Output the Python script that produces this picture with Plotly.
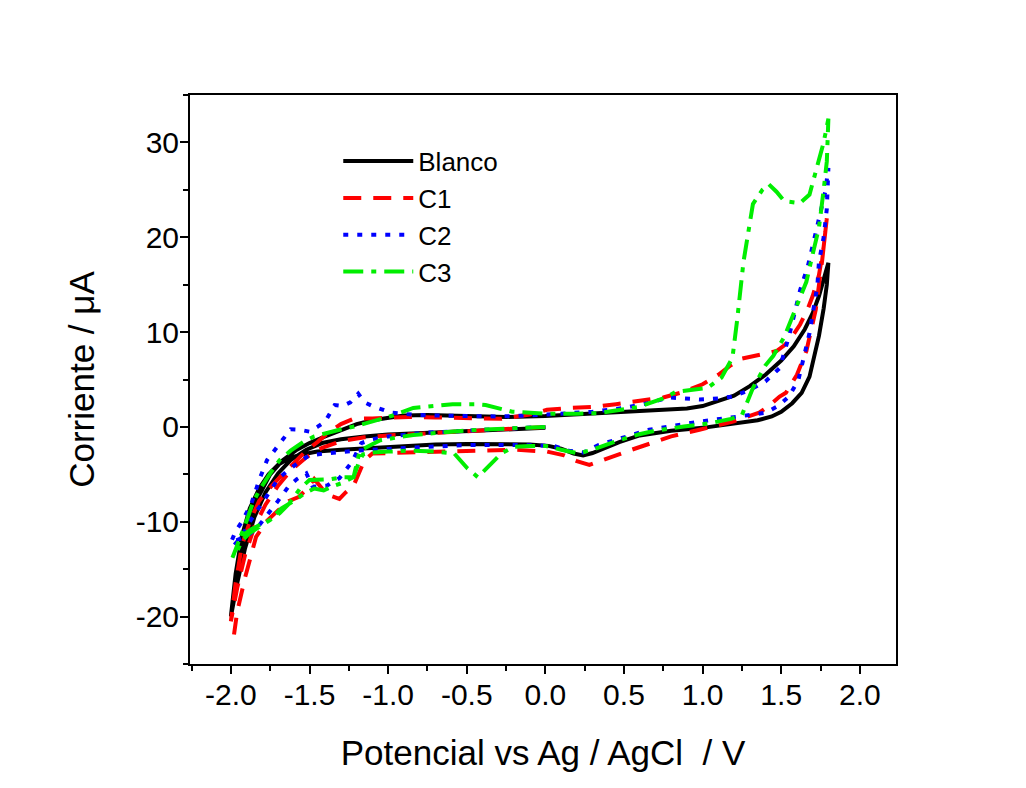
import plotly.graph_objects as go

# ---------------- data (V vs Ag/AgCl, current in uA) ----------------
# Each voltammogram: 0 V -> -2 V (middle), -2 V -> 1.8 V (upper), 1.8 V -> -2 V (lower)
blanco_v = [0.0, -0.25, -0.5, -0.75, -1.0, -1.15, -1.3, -1.42, -1.52, -1.62, -1.7, -1.78, -1.85, -1.91, -1.96, -2.0,
            -1.97, -1.93, -1.88, -1.82, -1.75, -1.67, -1.58, -1.5, -1.4, -1.3, -1.2, -1.1, -1.0, -0.9, -0.75, -0.5,
            -0.25, 0.0, 0.25, 0.5, 0.75, 0.9, 1.0, 1.1, 1.2, 1.3, 1.4, 1.5, 1.58, 1.65, 1.7, 1.74, 1.77, 1.8,
            1.79, 1.77, 1.74, 1.71, 1.68, 1.63, 1.57, 1.5, 1.44, 1.35, 1.2, 1.0, 0.8, 0.6, 0.47, 0.38, 0.3, 0.24,
            0.18, 0.1, 0.02, -0.1, -0.3, -0.5, -0.7, -0.9, -1.1, -1.3, -1.45, -1.55, -1.63, -1.7, -1.76, -1.82,
            -1.88, -1.93, -1.97, -2.0]
blanco_i = [-0.1, -0.25, -0.4, -0.55, -0.8, -1.0, -1.3, -1.7, -2.4, -3.5, -4.9, -6.9, -9.5, -12.8, -16.5, -20.0,
            -17.0, -13.5, -10.0, -7.2, -5.0, -3.5, -2.4, -1.7, -1.0, -0.3, 0.3, 0.7, 1.0, 1.2, 1.25, 1.15,
            1.05, 1.15, 1.4, 1.6, 1.8, 1.95, 2.2, 2.7, 3.3, 4.3, 5.5, 7.0, 8.5, 10.3, 12.0, 13.8, 15.5, 17.3,
            15.0, 12.5, 9.6, 7.2, 5.3, 3.6, 2.5, 1.6, 1.1, 0.7, 0.35, -0.1, -0.4, -0.9, -1.6, -2.2, -2.75, -3.0,
            -2.8, -2.3, -2.0, -1.85, -1.8, -1.8, -1.85, -2.0, -2.2, -2.4, -2.6, -2.9, -3.3, -4.0, -5.0, -6.5,
            -8.6, -11.5, -15.5, -20.0]

c1_v = [0.0, -0.25, -0.5, -0.75, -1.0, -1.15, -1.3, -1.42, -1.52, -1.62, -1.7, -1.78, -1.85, -1.91, -1.96, -2.0,
        -1.97, -1.93, -1.88, -1.82, -1.74, -1.66, -1.6, -1.52, -1.45, -1.38, -1.3, -1.22, -1.1, -1.0, -0.87, -0.7,
        -0.5, -0.28, -0.1, 0.01, 0.15, 0.3, 0.45, 0.59, 0.75, 0.88, 1.0, 1.1, 1.18, 1.25, 1.33, 1.4, 1.47, 1.52,
        1.56, 1.62, 1.67, 1.7, 1.74, 1.77, 1.79,
        1.78, 1.76, 1.72, 1.66, 1.6, 1.53, 1.49, 1.42, 1.36, 1.2, 0.98, 0.8, 0.55, 0.42, 0.34, 0.28, 0.2, 0.12,
        0.01, -0.2, -0.4, -0.6, -0.8, -1.0, -1.1, -1.15, -1.18, -1.22, -1.27, -1.31, -1.36, -1.42, -1.47, -1.52,
        -1.57, -1.63, -1.7, -1.77, -1.84, -1.91, -1.96, -1.98]
c1_i = [0.0, -0.2, -0.4, -0.6, -0.9, -1.1, -1.5, -2.2, -3.2, -4.6, -6.2, -8.2, -10.5, -13.5, -17.0, -20.5,
        -16.5, -12.5, -10.0, -7.8, -6.2, -4.8, -3.8, -2.5, -1.6, -0.6, 0.3, 0.85, 0.9, 0.95, 1.05, 1.0,
        0.95, 0.85, 1.3, 1.8, 2.0, 2.1, 2.4, 2.7, 3.1, 3.7, 4.5, 5.5, 6.5, 7.2, 7.5, 7.8, 8.0, 8.6,
        9.3, 10.8, 12.5, 13.8, 16.0, 19.0, 22.0,
        20.0, 17.5, 12.4, 8.0, 5.5, 3.6, 3.2, 2.2, 1.5, 0.6, -0.3, -1.0, -2.4, -3.2, -3.7, -4.0, -3.6, -3.0,
        -2.6, -2.4, -2.5, -2.6, -2.6, -2.7, -2.8, -3.5, -4.6, -6.2, -6.9, -7.6, -7.3, -6.5, -5.5, -6.6,
        -7.4, -7.8, -8.8, -9.9, -11.6, -15.9, -19.5, -21.9]

c2_v = [0.0, -0.25, -0.5, -0.75, -1.0, -1.1, -1.17, -1.23, -1.31, -1.39, -1.48, -1.52, -1.58, -1.63, -1.7, -1.77,
        -1.84, -1.9, -1.95, -2.0,
        -1.97, -1.93, -1.87, -1.82, -1.77, -1.69, -1.62, -1.56, -1.5, -1.45, -1.4, -1.34, -1.29, -1.24, -1.19,
        -1.15, -1.1, -0.98, -0.85, -0.7, -0.5, -0.3, -0.1, 0.1, 0.3, 0.5, 0.65, 0.79, 0.9, 0.98, 1.1, 1.19,
        1.3, 1.4, 1.49, 1.55, 1.62, 1.67, 1.7, 1.74, 1.78, 1.8,
        1.79, 1.77, 1.74, 1.73, 1.68, 1.61, 1.55, 1.48, 1.4, 1.23, 0.98, 0.66, 0.45, 0.34, 0.24, 0.15, 0.05,
        -0.2, -0.5, -0.8, -1.0, -1.1, -1.2, -1.3, -1.4, -1.5, -1.55, -1.63, -1.7, -1.76, -1.82, -1.88, -1.93,
        -1.98]
c2_i = [0.0, -0.2, -0.4, -0.6, -1.0, -1.3, -1.7, -3.7, -5.4, -6.2, -6.3, -4.9, -5.5, -6.2, -7.8, -9.3,
        -10.8, -11.5, -11.8, -12.2,
        -11.0, -10.0, -8.1, -5.6, -3.5, -1.7, -0.25, -0.3, -0.5, 0.0, 0.56, 2.3, 2.2, 2.6, 3.5,
        2.6, 2.2, 1.5, 1.3, 1.2, 1.1, 1.1, 1.2, 1.4, 1.6, 2.0, 2.5, 3.1, 3.0, 2.9, 3.0, 3.2,
        3.9, 4.8, 6.2, 9.6, 14.4, 17.0, 19.1, 22.0, 24.8, 27.3,
        23.0, 20.0, 17.4, 14.9, 9.9, 5.0, 3.2, 2.2, 1.5, 1.1, 0.56, -0.3, -1.4, -1.9, -2.7, -2.5, -2.0,
        -1.9, -1.9, -2.1, -2.3, -2.4, -2.5, -2.6, -2.8, -3.0, -3.5, -4.5, -5.5, -7.0, -8.5, -10.0, -11.5,
        -12.5]

c3_v = [0.0, -0.2, -0.42, -0.6, -0.84, -1.05, -1.18, -1.22, -1.29, -1.36, -1.44, -1.5, -1.56, -1.63, -1.69, -1.75,
        -1.8, -1.87, -1.94, -1.99,
        -1.97, -1.95, -1.9, -1.86, -1.82, -1.75, -1.69, -1.62, -1.54, -1.47, -1.41, -1.31, -1.2, -1.1, -0.97,
        -0.84, -0.7, -0.59, -0.45, -0.38, -0.21, 0.0, 0.2, 0.34, 0.59, 0.75, 0.83, 0.94, 1.03, 1.12, 1.19,
        1.22, 1.26, 1.32, 1.38, 1.42, 1.47, 1.52, 1.62, 1.68, 1.73, 1.77, 1.8,
        1.79, 1.77, 1.74, 1.7, 1.66, 1.59, 1.52, 1.45, 1.4, 1.32, 1.25, 1.18, 1.05, 0.88, 0.7, 0.59, 0.45,
        0.3, 0.21, 0.1, 0.0, -0.1, -0.2, -0.28, -0.35, -0.43, -0.5, -0.58, -0.7, -0.85, -1.0, -1.1, -1.16,
        -1.19, -1.22, -1.29, -1.36, -1.41, -1.47, -1.53, -1.6, -1.68, -1.75, -1.82, -1.88, -1.93, -1.97]
c3_i = [0.0, -0.1, -0.3, -0.5, -0.85, -1.4, -2.5, -5.3, -5.3, -5.5, -5.6, -5.6, -6.5, -8.1, -9.1, -9.8,
        -10.2, -10.8, -11.6, -13.8,
        -13.0, -12.3, -9.9, -8.0, -6.7, -4.9, -3.5, -2.5, -1.6, -1.0, -0.7, -0.3, 0.1, 0.56, 1.2,
        2.0, 2.2, 2.4, 2.4, 2.3, 1.6, 1.4, 1.4, 1.45, 2.1, 3.0, 3.7, 3.9, 4.1, 5.2, 7.3,
        11.3, 17.4, 23.5, 25.0, 25.6, 24.8, 23.8, 23.6, 24.5, 27.5, 30.0, 32.5,
        28.0, 25.0, 21.0, 18.2, 15.3, 12.4, 9.5, 7.5, 6.5, 4.1, 1.25, 0.85, 0.4, 0.04, -0.4, -0.8, -1.5,
        -2.4, -2.8, -2.4, -2.0, -2.0, -2.1, -2.8, -4.0, -5.3, -4.3, -2.8, -2.6, -2.5, -2.6, -2.7, -2.9,
        -3.9, -5.3, -5.9, -6.3, -6.7, -6.5, -7.0, -7.8, -8.6, -9.8, -10.5, -11.2, -12.0, -13.5]

series_names = ["Blanco", "C1", "C2", "C3"]
x_ticks = [-2.0, -1.5, -1.0, -0.5, 0.0, 0.5, 1.0, 1.5, 2.0]
y_ticks = [-20, -10, 0, 10, 20, 30]

# ---------------- figure ----------------
FONT = "Arial, Liberation Sans, sans-serif"
styles = [
    dict(color="#000000", dash="solid"),
    dict(color="#FF0000", dash="18px,12px"),
    dict(color="#0000FF", dash="5px,9px"),
    dict(color="#00EE00", dash="20px,8px,5px,8px"),
]
data = [(blanco_v, blanco_i), (c1_v, c1_i), (c2_v, c2_i), (c3_v, c3_i)]

fig = go.Figure()
for name, (xv, yv), st in zip(series_names, data, styles):
    fig.add_trace(go.Scatter(x=xv, y=yv, mode="lines", name=name,
                             line=dict(color=st["color"], dash=st["dash"], width=4)))

axis_common = dict(
    showgrid=False, zeroline=False, showline=True, linecolor="black", linewidth=2,
    mirror=True, ticks="outside", ticklen=8, tickwidth=2, tickcolor="black",
    tickfont=dict(family=FONT, size=30, color="black"),
    title_font=dict(family=FONT, size=35, color="black"),
)

fig.update_xaxes(range=[-2.26, 2.23], tickvals=x_ticks, ticktext=[f"{v:.1f}" for v in x_ticks],
                 minor=dict(dtick=0.25, tick0=0, ticks="outside", ticklen=5, tickwidth=2, tickcolor="black"),
                 title_text="Potencial vs Ag / AgCl  / V", title_standoff=30, ticklabelstandoff=-5,
                 **axis_common)
fig.update_yaxes(range=[-25, 35], tickvals=y_ticks, ticktext=[str(v) for v in y_ticks],
                 minor=dict(dtick=5, tick0=0, ticks="outside", ticklen=5, tickwidth=2, tickcolor="black"),
                 title_text="Corriente / μA", title_standoff=30, ticklabelstandoff=-5, **axis_common)

fig.update_layout(
    width=1026, height=788,
    margin=dict(l=182, r=138, t=87, b=132),
    paper_bgcolor="white", plot_bgcolor="white",
    font=dict(family=FONT, color="black"),
    showlegend=True,
    legend=dict(x=0.21, y=0.925, xanchor="left", yanchor="top", bgcolor="rgba(0,0,0,0)",
                font=dict(family=FONT, size=26, color="black"), itemwidth=70, tracegroupgap=0),
)

fig.write_html("out.html")
